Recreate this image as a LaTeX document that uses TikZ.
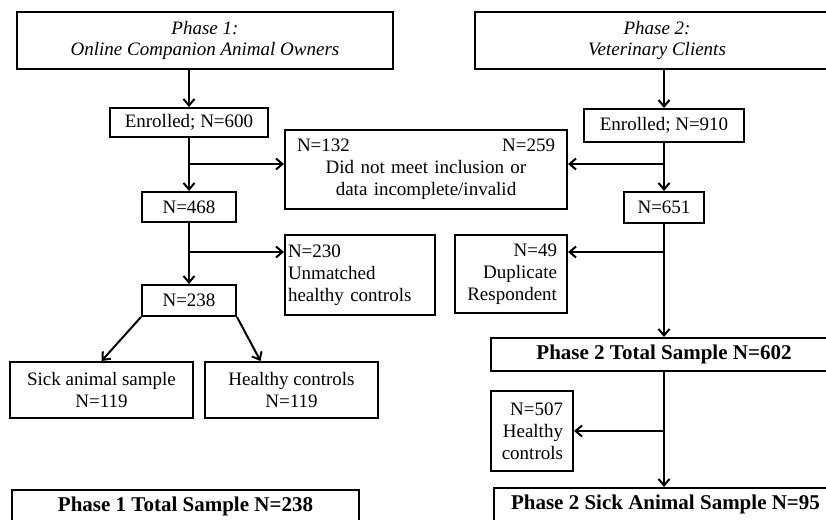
\documentclass[tikz,border=0pt]{standalone}
\usepackage{fontspec}
\setmainfont{Liberation Serif}
\usetikzlibrary{arrows.meta}
\begin{document}
\begin{tikzpicture}[x=1pt,y=-1pt,
  pbox/.style={draw,line width=2pt,inner sep=0pt,align=center,font=\fontsize{19}{22}\selectfont},
  ibox/.style={pbox,font=\fontsize{19}{21}\selectfont\itshape},
  bbox/.style={pbox,font=\fontsize{21}{24}\selectfont\bfseries},
  arr/.style={line width=2pt,-{Straight Barb[length=6.5pt,width=11pt,line width=2pt]}}]
\useasboundingbox (0,0) rectangle (826,519);
\node[ibox,minimum width=376pt,minimum height=57pt] (p1) at (205,40.5) {Phase 1:\\Online Companion Animal Owners};
\node[ibox,minimum width=364pt,minimum height=57pt] (p2) at (657,40.5) {Phase 2:\\Veterinary Clients};
\node[pbox,minimum width=158pt,minimum height=29pt] (e600) at (189,122.5) {Enrolled; N=600};
\node[pbox,minimum width=160pt,minimum height=33pt] (e910) at (664,125.5) {Enrolled; N=910};
\node[pbox,minimum height=79pt,text width=258pt,inner xsep=12pt] (excl) at (426,169.5)
  {\makebox[258pt]{N=132\hfill N=259}\\Did not meet inclusion or\\data incomplete/invalid};
\node[pbox,minimum width=94pt,minimum height=30pt] (n468) at (189,207) {N=468};
\node[pbox,minimum width=80pt,minimum height=31pt] (n651) at (664,207.5) {N=651};
\node[pbox,minimum height=80pt,text width=144pt,inner xsep=3pt,align=left] (n230) at (360,275)
  {N=230\\Unmatched\\healthy controls};
\node[pbox,minimum height=78pt,text width=92pt,inner xsep=10pt,align=right] (n49) at (511,274)
  {N=49\\Duplicate\\Respondent};
\node[pbox,minimum width=94pt,minimum height=31pt] (n238) at (189,300.5) {N=238};
\node[pbox,minimum width=183pt,minimum height=56pt] (sick) at (101.5,390) {Sick animal sample\\N=119};
\node[pbox,minimum width=173pt,minimum height=56pt] (healthy) at (291.5,390) {Healthy controls\\N=119};
\node[bbox,minimum width=346pt,minimum height=33pt] (p2t) at (664,354.5) {Phase 2 Total Sample N=602};
\node[pbox,minimum height=80pt,text width=62pt,inner xsep=10pt,align=right] (n507) at (532,431)
  {N=507\\Healthy\\controls};
\node[bbox,minimum width=347pt,minimum height=33pt] (t1) at (185.5,506.5) {Phase 1 Total Sample N=238};
\node[bbox,minimum width=343pt,minimum height=33pt] (p2s) at (665.5,504.5) {Phase 2 Sick Animal Sample N=95};
\coordinate (b1) at (189,164);
\coordinate (b2) at (664,164);
\coordinate (b3) at (189,252);
\coordinate (b4) at (664,252);
\coordinate (b5) at (664,431);
\draw[arr] (p1.south -| e600.north) -- (e600.north);
\draw[arr] (e600.south) -- (n468.north);
\draw[arr] (b1) -- (b1 -| excl.west);
\draw[arr] (p2.south -| e910.north) -- (e910.north);
\draw[arr] (e910.south) -- (n651.north);
\draw[arr] (b2) -- (b2 -| excl.east);
\draw[arr] (n468.south) -- (n238.north);
\draw[arr] (b3) -- (b3 -| n230.west);
\draw[arr] (n238.south west) -- (sick.north);
\draw[arr] (n238.south east) -- ([xshift=-31pt]healthy.north);
\draw[arr] (n651.south) -- (p2t.north);
\draw[arr] (b4) -- (b4 -| n49.east);
\draw[arr] (p2t.south) -- (p2t.south |- p2s.north);
\draw[arr] (b5) -- (b5 -| n507.east);
\end{tikzpicture}
\end{document}
